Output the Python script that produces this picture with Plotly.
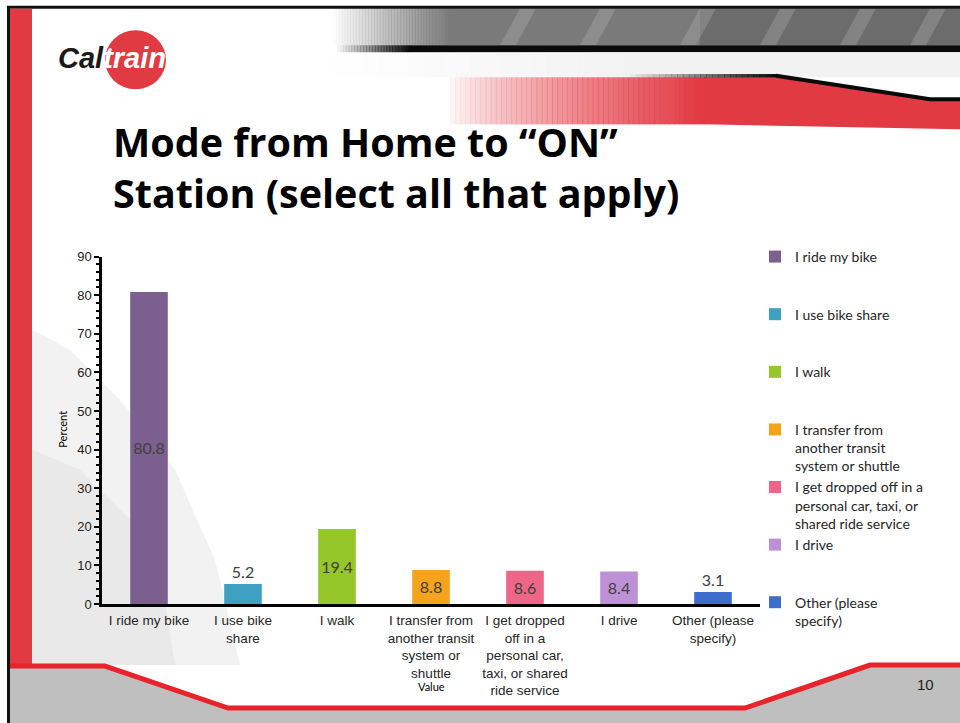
import plotly.graph_objects as go

# ---------------- data ----------------
categories = [
    "I ride my bike",
    "I use bike<br>share",
    "I walk",
    "I transfer from<br>another transit<br>system or<br>shuttle",
    "I get dropped<br>off in a<br>personal car,<br>taxi, or shared<br>ride service",
    "I drive",
    "Other (please<br>specify)",
]
legend_names = [
    "I ride my bike<br>\u00a0<br>\u00a0",
    "I use bike share<br>\u00a0<br>\u00a0",
    "I walk<br>\u00a0<br>\u00a0",
    "I transfer from<br>another transit<br>system or shuttle",
    "I get dropped off in a<br>personal car, taxi, or<br>shared ride service",
    "I drive<br>\u00a0<br>\u00a0",
    "Other (please<br>specify)",
]
values = [80.8, 5.2, 19.4, 8.8, 8.6, 8.4, 3.1]
value_labels = ["80.8", "5.2", "19.4", "8.8", "8.6", "8.4", "3.1"]
label_positions = ["inside", "outside", "inside", "inside", "inside", "inside", "outside"]
colors = ["#7B5F8E", "#3EA1C1", "#95C62A", "#F4A31D", "#EF6587", "#BE91D7", "#3C6DCB"]
y_ticks = [0, 10, 20, 30, 40, 50, 60, 70, 80, 90]

W, H = 960, 723
# vertical placement calibration (target picture pixel -> figure pixel)
OFF_Y, SCALE_Y = 7.8, 0.978


def px(x):
    return x / W


def py(y):
    return 1 - ((y - OFF_Y) / SCALE_Y) / H


def path(points):
    return "M " + " L ".join(f"{px(x):.5f},{py(y):.5f}" for x, y in points) + " Z"


def openpath(points):
    return "M " + " L ".join(f"{px(x):.5f},{py(y):.5f}" for x, y in points)


shapes = []


def rect(x0, y0, x1, y1, color, opacity=1.0):
    shapes.append(dict(type="rect", xref="paper", yref="paper",
                       x0=px(x0), x1=px(x1), y0=py(y1), y1=py(y0),
                       fillcolor=color, opacity=opacity, line=dict(width=0),
                       layer="below"))


def fade(x0, x1, y0, y1, color, n=30, gamma=1.0):
    step = (x1 - x0) / n
    for i in range(n):
        rect(x0 + i * step, y0, x0 + (i + 1) * step + 0.5, y1, color, ((i + 1) / n) ** gamma)


# faint background figure at the lower left
shapes.append(dict(type="path", xref="paper", yref="paper",
                   path=path([(32, 330), (70, 350), (120, 400), (175, 470), (215, 560),
                              (240, 665), (32, 665)]),
                   fillcolor="#E9E9E9", opacity=0.6, line=dict(width=0), layer="below"))
shapes.append(dict(type="path", xref="paper", yref="paper",
                   path=path([(32, 450), (80, 470), (130, 520), (165, 600), (175, 665), (32, 665)]),
                   fillcolor="#DCDCDC", opacity=0.4, line=dict(width=0), layer="below"))

# top grey banner with fade
fade(333, 450, 9, 46, "#7A7A7A", n=40)
rect(450, 9, 960, 46, "#7A7A7A")
rect(700, 9, 960, 46, "#5E5E5E", 0.5)
for sx in (520, 600, 700, 780, 860, 930):
    shapes.append(dict(type="path", xref="paper", yref="paper",
                       path=path([(sx, 9), (sx + 16, 9), (sx - 4, 46), (sx - 20, 46)]),
                       fillcolor="#B8B8B8", opacity=0.3, line=dict(width=0), layer="below"))
# black bar under the banner
fade(337, 410, 46, 53, "#0A0A0A", n=25)
rect(410, 46, 960, 53, "#0A0A0A")
# light grey band
fade(333, 640, 53, 78, "#F2F2F2", n=20)
rect(640, 53, 960, 78, "#F2F2F2")
# red band with fade
fade(450, 705, 78, 125, "#E23A43", n=50, gamma=0.75)
shapes.append(dict(type="path", xref="paper", yref="paper",
                   path=path([(704, 78), (777, 78), (930, 101), (960, 101), (960, 130), (704, 125)]),
                   fillcolor="#E23A43", line=dict(width=0), layer="below"))
# dark edge on top of the red band
n_edge = 25
for i in range(n_edge):
    xa = 630 + i * (777 - 630) / n_edge
    xb = 630 + (i + 1) * (777 - 630) / n_edge + 0.5
    shapes.append(dict(type="line", xref="paper", yref="paper",
                       x0=px(xa), x1=px(xb), y0=py(76.5), y1=py(76.5),
                       line=dict(color="#0A0A0A", width=3.5), opacity=(i + 1) / n_edge,
                       layer="below"))
shapes.append(dict(type="path", xref="paper", yref="paper",
                   path=openpath([(776, 76.5), (930, 100), (962, 100)]),
                   line=dict(color="#0A0A0A", width=4), layer="below"))

# frame
shapes.append(dict(type="line", xref="paper", yref="paper",
                   x0=px(7), x1=px(962), y0=py(8), y1=py(8),
                   line=dict(color="#111111", width=3), layer="below"))
shapes.append(dict(type="line", xref="paper", yref="paper",
                   x0=px(8.5), x1=px(8.5), y0=py(8), y1=py(740),
                   line=dict(color="#111111", width=3), layer="below"))
# left red band
rect(10, 9.5, 32, 667, "#E23A43")

# bottom grey area + red line
bottom_pts = [(10, 666), (105, 666), (228, 708), (745, 708), (870, 665), (962, 665)]
shapes.append(dict(type="path", xref="paper", yref="paper",
                   path=path(bottom_pts + [(962, 740), (10, 740)]),
                   fillcolor="#BFBFBF", line=dict(width=0), layer="below"))
shapes.append(dict(type="path", xref="paper", yref="paper",
                   path=openpath(bottom_pts),
                   line=dict(color="#E8232B", width=5), layer="below"))

# logo circle
shapes.append(dict(type="circle", xref="paper", yref="paper",
                   x0=px(105), x1=px(166), y0=py(90), y1=py(31),
                   fillcolor="#E23A43", line=dict(width=0), layer="below"))

# ---------------- traces ----------------
fig = go.Figure()
for cat, name, val, lab, pos, col in zip(categories, legend_names, values,
                                         value_labels, label_positions, colors):
    fig.add_trace(go.Bar(
        x=[cat], y=[val], name=name,
        marker=dict(color=col, line=dict(width=0)),
        text=[lab], textposition=pos, insidetextanchor="middle",
        textangle=0, constraintext="none", cliponaxis=False,
        textfont=dict(family="Lato", size=16, color="#404040"),
        insidetextfont=dict(family="Lato", size=16, color="#404040"),
        outsidetextfont=dict(family="Lato", size=16, color="#404040"),
        hoverinfo="x+y",
    ))


def note(text, x, y, size, family="Lato", color="#000000", **kw):
    d = dict(text=text, x=px(x), y=py(y), xref="paper", yref="paper",
             xanchor="center", yanchor="middle", showarrow=False,
             font=dict(family=family, size=size, color=color))
    d.update(kw)
    return d


annotations = [
    note("<b>Mode from Home to \u201cON\u201d<br>Station (select all that apply)</b>",
         111, 168, 39.5, family="Open Sans", xanchor="left", align="left"),
    note("Percent", 63, 430, 11, textangle=-90),
    note("Value", 431, 686, 11),
    note("10", 925, 684, 15, family="Liberation Sans", color="#222222"),
    note("<b><i><span style='color:#1A1A1A'>Cal</span><span style='color:#FFFFFF'>train</span></i></b>",
         112, 59, 29, family="Liberation Sans", color="#1A1A1A"),
]

fig.update_layout(
    width=W, height=H,
    margin=dict(l=0, r=0, t=0, b=0),
    paper_bgcolor="#FFFFFF",
    plot_bgcolor="rgba(0,0,0,0)",
    barmode="overlay",
    bargap=0.6,
    showlegend=True,
    legend=dict(x=px(755), y=py(241.5), xanchor="left", yanchor="top",
                font=dict(family="Lato", size=14, color="#262626"),
                valign="top", bgcolor="rgba(0,0,0,0)", tracegroupgap=0,
                traceorder="normal", itemclick=False, itemdoubleclick=False),
    xaxis=dict(domain=[px(102), px(760)], type="category", categoryorder="array",
               categoryarray=categories, range=[-0.5, 6.5],
               showline=True, linecolor="#000000", linewidth=3, ticks="",
               ticklabelstandoff=2,
               showgrid=False, zeroline=False,
               tickfont=dict(family="Liberation Sans", size=13.5, color="#262626")),
    yaxis=dict(domain=[py(604), py(257)], range=[0, 90], tickvals=y_ticks,
               showline=True, linecolor="#000000", linewidth=2.5,
               ticks="outside", ticklen=5, tickwidth=1.5, tickcolor="#000000",
               minor=dict(dtick=2, ticks="outside", ticklen=3, tickwidth=1.5,
                          tickcolor="#000000"),
               showgrid=False, zeroline=False,
               tickfont=dict(family="Liberation Sans", size=13, color="#222222")),
    yaxis2=dict(domain=[py(604), py(257)], range=[0, 90], overlaying="y",
                anchor="x", side="left", tickvals=y_ticks, showticklabels=False,
                ticks="inside", ticklen=4, tickwidth=1.5, tickcolor="#000000",
                minor=dict(dtick=2, ticks="inside", ticklen=3, tickwidth=1.5,
                           tickcolor="#000000"),
                showgrid=False, zeroline=False, showline=False),
    shapes=shapes,
    annotations=annotations,
)

fig.write_html("out.html", config={"displayModeBar": False},
               post_script="document.body.style.margin='0';document.body.style.overflow='hidden';")
